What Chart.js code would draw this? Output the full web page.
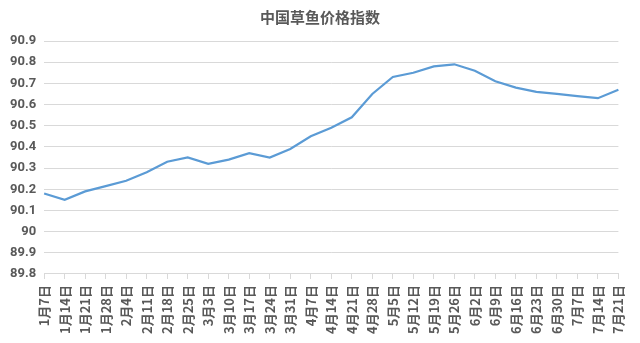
<!DOCTYPE html>
<html>
<head>
<meta charset="utf-8">
<script src="https://cdn.jsdelivr.net/npm/chart.js@4/dist/chart.umd.min.js"></script>
<style>
  html, body { margin: 0; padding: 0; background: #fff; }
  #wrap { width: 640px; height: 343px; }
</style>
</head>
<body>
<div id="wrap"><canvas id="chart"></canvas></div>
<script>
// data
const dates = ["1月7日", "1月14日", "1月21日", "1月28日", "2月4日", "2月11日", "2月18日", "2月25日",
  "3月3日", "3月10日", "3月17日", "3月24日", "3月31日", "4月7日", "4月14日", "4月21日", "4月28日",
  "5月5日", "5月12日", "5月19日", "5月26日", "6月2日", "6月9日", "6月16日", "6月23日", "6月30日",
  "7月7日", "7月14日", "7月21日"];
const priceIndex = [90.18, 90.15, 90.19, 90.215, 90.24, 90.28, 90.33, 90.35,
  90.32, 90.34, 90.37, 90.35, 90.39, 90.45, 90.49, 90.54, 90.65,
  90.73, 90.75, 90.78, 90.79, 90.76, 90.71, 90.68, 90.66, 90.65,
  90.64, 90.63, 90.67];
const yMin = 89.8, yMax = 90.9, yStep = 0.1;

const ctx = document.getElementById("chart").getContext("2d");

const chart = new Chart(ctx, {
    type: "line",
    data: {
        labels: dates,
        datasets: [{
            label: "中国草鱼价格指数",
            data: priceIndex,
            borderColor: "#5b9bd5",
            borderWidth: 2.2,
            pointRadius: 0,
            tension: 0,
            fill: false
        }]
    },
    options: {
        responsive: true,
        maintainAspectRatio: false,
        animation: false,
        layout: { padding: { left: 2, right: 2, top: 6, bottom: 3 } },
        plugins: {
            legend: { display: false },
            tooltip: { enabled: false },
            title: {
                display: true,
                text: "中国草鱼价格指数",
                color: "#595959",
                font: { family: "'Noto Sans CJK SC'", size: 15, weight: "bold" },
                padding: { top: 2, bottom: 15 }
            }
        },
        scales: {
            x: {
                offset: false,
                grid: { drawOnChartArea: false, drawTicks: true, tickLength: 5, color: "#d9d9d9" },
                border: { display: true, color: "#d9d9d9" },
                ticks: {
                    autoSkip: false,
                    maxRotation: 90,
                    minRotation: 90,
                    color: "#595959",
                    padding: 6,
                    font: { family: "'Noto Sans CJK SC'", size: 13, weight: "bold" }
                }
            },
            y: {
                min: yMin,
                max: yMax,
                grid: { color: "#d9d9d9", drawTicks: false },
                border: { display: false },
                ticks: {
                    stepSize: yStep,
                    color: "#595959",
                    padding: 8,
                    font: { family: "Roboto", size: 13, weight: "bold" },
                    callback: v => String(Math.round(v * 10) / 10)
                }
            }
        }
    }
});
</script>
</body>
</html>
